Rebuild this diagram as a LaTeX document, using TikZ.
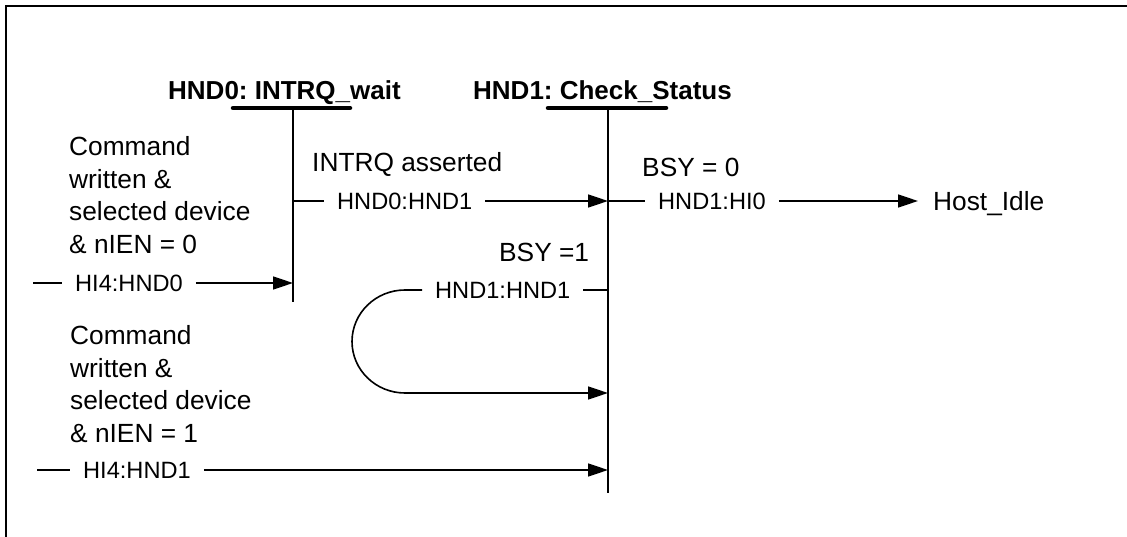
\documentclass[tikz,border=0pt]{standalone}
\usepackage{fontspec}
\setmainfont{Liberation Sans}
\usetikzlibrary{arrows.meta}
\frenchspacing
\begin{document}
\begin{tikzpicture}[x=1pt,y=-1pt,
  conn/.style={line width=1.6pt},
  arr/.style={line width=1.6pt,-{Triangle[length=20pt,width=13pt]}},
  bar/.style={line width=2.6pt},
  hbar/.style={line width=4.5pt,line cap=round},
  frameline/.style={line width=2.6pt},
  lbl/.style={font=\fontsize{23.6}{28}\selectfont,inner xsep=13pt,inner ysep=0pt,text height=16.9pt,text depth=0pt,anchor=west},
  big/.style={font=\fontsize{26.3}{32.5}\selectfont,inner sep=0pt,anchor=base west},
  bigblock/.style={font=\fontsize{26.3}{32.5}\selectfont,inner sep=0pt,anchor=west,align=left},
  title/.style={font=\fontsize{26}{30}\selectfont\bfseries,inner sep=0pt,anchor=base west}]
\useasboundingbox (0,0) rectangle (1127,537);
% frame
\coordinate (fbl) at (6,537);
\coordinate (ftl) at (6,6);
\coordinate (ftr) at (1127,6);
\draw[frameline] (fbl) -- (ftl) -- (ftr);
% states
\coordinate (v0top) at (293,108);
\coordinate (v0bot) at (293,302);
\coordinate (v1top) at (608,108);
\coordinate (v1bot) at (608,493);
\coordinate (b0l) at (233,108);
\coordinate (b0r) at (350,108);
\coordinate (b1l) at (548,108);
\coordinate (b1r) at (666,108);
\draw[bar] (v0top) -- (v0bot);
\draw[bar] (v1top) -- (v1bot);
\draw[hbar] (b0l) -- (b0r);
\draw[hbar] (b1l) -- (b1r);
\node[title] (t0) at (168,99.3) {HND0: INTRQ\_wait};
\node[title] (t1) at (473,99.3) {HND1: Check\_Status};
% condition texts
\node[bigblock] (c0) at (69,195) {Command\\written \&\\selected device\\\& nIEN = 0};
\node[bigblock] (c1) at (70,384) {Command\\written \&\\selected device\\\& nIEN = 1};
\node[big] (intrq) at (312,171.4) {INTRQ asserted};
\node[big] (bsy0) at (642,176.4) {BSY = 0};
\node[big] (bsy1) at (499,261.4) {BSY =1};
% transition labels
\node[lbl] (l0) at (62,283) {HI4:HND0};
\node[lbl] (l1) at (70,470) {HI4:HND1};
\node[lbl] (l2) at (324,201) {HND0:HND1};
\node[lbl] (l3) at (645,201) {HND1:HI0};
\node[lbl] (l4) at (422,290) {HND1:HND1};
\node[font=\fontsize{26.3}{32.5}\selectfont,inner xsep=15pt,inner ysep=0pt,text height=18.8pt,text depth=0pt,anchor=west] (host) at (918,201) {Host\_Idle};
% connectors
\coordinate (d0) at (33,283);
\coordinate (d1) at (37,470);
\draw[conn] (d0) -- (l0.west);
\draw[arr] (l0.east) -- (l0.east -| v0top);
\draw[conn] (d1) -- (l1.west);
\draw[arr] (l1.east) -- (l1.east -| v1top);
\draw[conn] (l2.west -| v0top) -- (l2.west);
\draw[arr] (l2.east) -- (l2.east -| v1top);
\draw[conn] (l3.west -| v1top) -- (l3.west);
\draw[arr] (l3.east) -- (host.west);
\draw[conn] (l4.east) -- (l4.east -| v1top);
\coordinate (lpa) at (405,290);
\coordinate (lpb) at (405,393);
\coordinate (lpend) at (608,393);
\draw[conn] (l4.west) -- (lpa) .. controls (375.7,290) and (352,313.1) .. (352,341.5) .. controls (352,369.9) and (375.7,393) .. (lpb);
\draw[arr] (lpb) -- (lpend);
\end{tikzpicture}
\end{document}
